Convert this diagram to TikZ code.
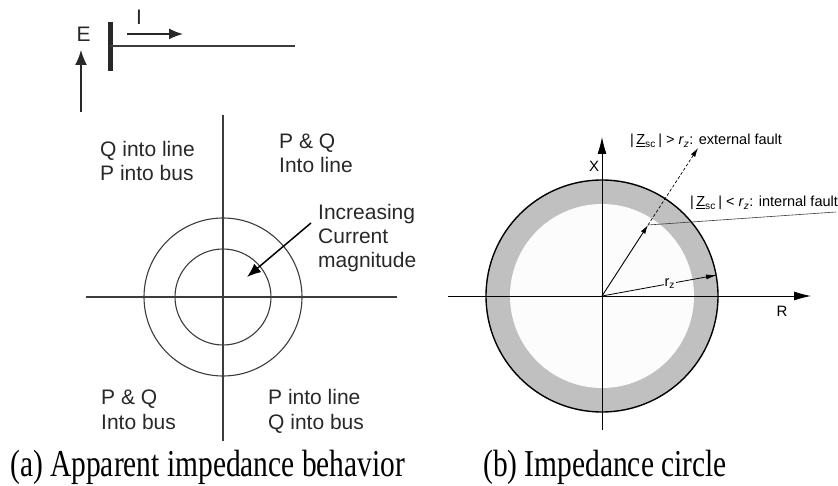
\documentclass[tikz,border=0pt]{standalone}
\usepackage{fontspec}
\usepackage{graphicx}
\setmainfont{Liberation Sans}
\newfontfamily\capfont{Liberation Serif}
\usetikzlibrary{arrows.meta}
\definecolor{ringgray}{RGB}{192,192,192}
\definecolor{innerw}{RGB}{252,252,252}
\definecolor{linegray}{RGB}{60,60,60}
\definecolor{txtgray}{RGB}{40,40,40}
\tikzset{
  lbl/.style={inner sep=0pt, anchor=base west, text=txtgray, font=\fontsize{21}{24}\selectfont},
  rlbl/.style={inner sep=0pt, anchor=base west, font=\fontsize{14.5}{16}\selectfont},
  axlbl/.style={inner sep=0pt, font=\fontsize{15}{16}\selectfont},
  captxt/.style={inner sep=0pt, anchor=base west, font=\capfont\fontsize{38}{40}\selectfont},
  gline/.style={draw=linegray, line width=1.1pt},
  bigtip/.style={-{Latex[length=15pt,width=12pt]}},
  axtip/.style={-{Latex[length=17pt,width=9pt]}},
  smalltip/.style={-{Latex[length=9pt,width=5pt]}}
}
\begin{document}
\begin{tikzpicture}[x=1pt,y=-1pt]
\useasboundingbox (0,0) rectangle (838,486);

% ---------- (a) top sketch ----------
\coordinate (Ebot) at (81,112);
\coordinate (Etop) at (81,50);
\coordinate (busT) at (110,22);
\coordinate (busB) at (110,71);
\coordinate (lineL) at (110,46);
\coordinate (lineR) at (295,46);
\coordinate (Is) at (127,34);
\coordinate (Ie) at (183,34);
\draw[draw=txtgray, line width=1.5pt, bigtip] (Ebot) -- (Etop);
\draw[draw=txtgray, line width=5pt] (busT) -- (busB);
\draw[gline] (lineL) -- (lineR);
\draw[draw=txtgray, line width=1.5pt, -{Latex[length=14pt,width=11pt]}] (Is) -- (Ie);
\node[lbl] (Elbl) at (76.5,41.7) {E};
\node[lbl] (Ilbl) at (136,25) {I};

% ---------- (a) quadrant diagram ----------
\coordinate (C) at (223,297);
\coordinate (ax1) at (223,115);
\coordinate (ax2) at (223,441);
\coordinate (ah1) at (86,297);
\coordinate (ah2) at (397,297);
\draw[gline] (ax1) -- (ax2);
\draw[gline] (ah1) -- (ah2);
\draw[gline] (C) circle (79);
\draw[gline] (C) circle (48);

\node[lbl] (q2a) at (100,156.5) {Q into line};
\node[lbl] (q2b) at (100,180.5) {P into bus};
\node[lbl] (q1a) at (279,148.5) {P \& Q};
\node[lbl] (q1b) at (279,172.5) {Into line};
\node[lbl] (inca) at (318,220) {Increasing};
\node[lbl] (incb) at (318,244) {Current};
\node[lbl] (incc) at (318,268) {magnitude};
\node[lbl] (q3a) at (101,404.5) {P \& Q};
\node[lbl] (q3b) at (101,429.5) {Into bus};
\node[lbl] (q4a) at (268,404.5) {P into line};
\node[lbl] (q4b) at (268,429.5) {Q into bus};

\coordinate (incS) at (311,223);
\coordinate (incE) at (247,277);
\draw[draw=black, line width=1.5pt, -{Latex[length=14pt,width=11pt]}] (incS) -- (incE);

% ---------- (b) impedance circle ----------
\coordinate (O) at (602,296);
\fill[ringgray] (O) circle (116);
\fill[innerw] (O) circle (92);
\draw[line width=1.4pt] (O) circle (116);

\coordinate (Rl) at (448,296);
\coordinate (Rr) at (811,296);
\coordinate (Xb) at (602,430);
\coordinate (Xt) at (602,137);
\draw[line width=0.9pt, axtip] (Rl) -- (Rr);
\draw[line width=0.9pt, axtip] (Xb) -- (Xt);
\node[axlbl] (Xlbl) at (594,166) {X};
\node[axlbl] (Rlbl) at (782,311) {R};

\coordinate (A) at (648,225);
\coordinate (B) at (698,148);
\coordinate (Lend) at (836,212);
\coordinate (Rz) at (717,275);
\draw[line width=0.9pt, smalltip] (O) -- (A);
\draw[line width=0.7pt, dash pattern=on 3pt off 2pt, smalltip] (A) -- (B);
\draw[line width=0.6pt, draw=linegray] (A) -- (Lend);
\draw[line width=0.8pt, -{Latex[length=11pt,width=5pt]}] (O) -- (Rz)
  node[pos=0.59, fill=innerw, inner sep=1pt, font=\fontsize{14.5}{16}\selectfont] (rzlbl) {r\textsubscript{z}};

\node[rlbl] (ext) at (630,145) {|\,\underline{Z}\textsubscript{sc}\,| > \textit{r}\textsubscript{\textit{z}}: external fault};
\node[rlbl] (int) at (690,207) {|\,\underline{Z}\textsubscript{sc}\,| < \textit{r}\textsubscript{\textit{z}}: internal fault};

% ---------- captions ----------
\node[captxt] (capa) at (10,476) {\scalebox{0.775}[1]{(a) Apparent impedance behavior}};
\node[captxt] (capb) at (483,476) {\scalebox{0.775}[1]{(b) Impedance circle}};
\end{tikzpicture}
\end{document}
